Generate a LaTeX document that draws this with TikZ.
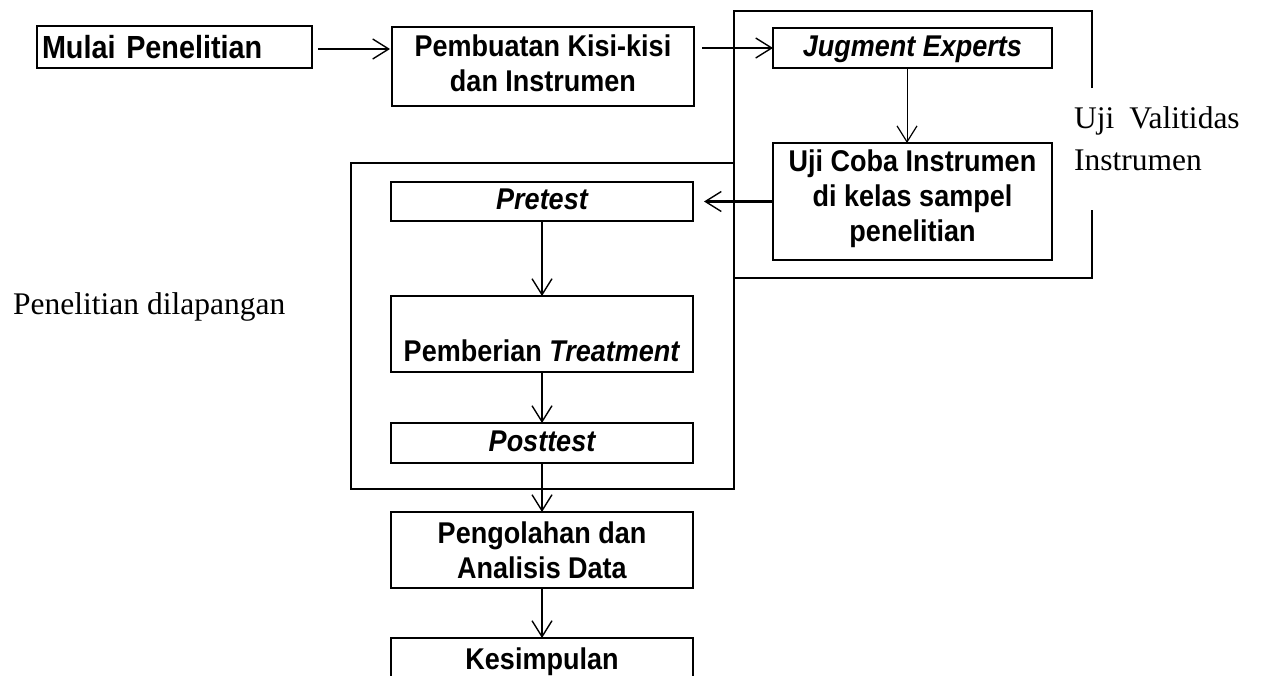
\documentclass[tikz,border=0pt]{standalone}
\usepackage{fontspec}
\setmainfont{Liberation Serif}
\newfontfamily\boxfont[FakeStretch=0.9]{Liberation Sans}
\usetikzlibrary{arrows.meta}
\begin{document}
\begin{tikzpicture}[x=1pt,y=-1pt,
  flowbox/.style={draw, line width=2pt, inner sep=0pt, outer sep=0pt, align=center,
    font=\boxfont\bfseries\fontsize{30}{35}\selectfont},
  oneline/.style={text height=22pt, text depth=6pt},
  groupbox/.style={draw, line width=1.5pt},
  flow/.style={line width=2.2pt, -{Straight Barb[length=16pt,width=20pt,line width=1.4pt]}},
  thinflow/.style={line width=1pt, -{Straight Barb[length=16pt,width=20pt,line width=1.2pt]}},
  sidelabel/.style={font=\fontsize{31.5}{42}\selectfont, inner sep=0pt, anchor=base west}
]
\useasboundingbox (0,0) rectangle (1264,675);
\clip (0,0) rectangle (1264,675);

% group outlines
\draw[groupbox] (1092,88) -- (1092,11) -- (734,11) -- (734,278) -- (1092,278) -- (1092,210);
\draw[groupbox] (351,163) rectangle (734,489);

% boxes
\node[flowbox, font=\boxfont\bfseries\fontsize{32}{35}\selectfont, line width=2.4pt,
      text width=265pt, inner xsep=5pt, align=left, minimum height=42pt,
      text height=23pt, text depth=0pt] (mulai) at (174.5,47) {Mulai Penelitian};
\node[flowbox, minimum width=302pt, minimum height=79pt] (pemb) at (543,66.5) {Pembuatan Kisi-kisi\\dan Instrumen\rule[-6pt]{0pt}{0pt}};
\node[flowbox, oneline, minimum width=279pt, minimum height=40pt] (jug) at (912.5,48) {\itshape Jugment Experts};
\node[flowbox, minimum width=279pt, minimum height=117pt] (uji) at (912.5,201.5) {Uji Coba Instrumen\\di kelas sampel\\penelitian\rule[-12pt]{0pt}{0pt}};
\node[flowbox, oneline, minimum width=302pt, minimum height=39pt] (pre) at (542,201.5) {\itshape Pretest};
\node[flowbox, minimum width=302pt, minimum height=76pt] (treat) at (542,334) {};
\node[font=\boxfont\bfseries\fontsize{30}{35}\selectfont, inner sep=0pt, anchor=base] (treattxt) at (542,361) {Pemberian \textit{Treatment}};
\node[flowbox, oneline, minimum width=302pt, minimum height=40pt] (post) at (542,443) {\itshape Posttest};
\node[flowbox, minimum width=302pt, minimum height=76pt] (peng) at (542,550) {Pengolahan dan\\Analisis Data};
\node[flowbox, oneline, minimum width=302pt, minimum height=46pt] (kes) at (542,661) {Kesimpulan};

% side labels
\node[sidelabel] (ujival) at (1074,128) {Uji\hspace{15pt}Valitidas};
\node[sidelabel] (ujiins) at (1074,170) {Instrumen};
\node[sidelabel] (lapangan) at (13,314) {Penelitian dilapangan};

% connectors
\draw[flow, shorten <=6pt, shorten >=2pt] (mulai.east |- 0,49) -- (pemb.west |- 0,49);
\draw[flow, shorten <=8pt] (pemb.east |- jug.west) -- (jug.west);
\draw[thinflow] (jug.south -| 907,0) -- (uji.north -| 907,0);
\draw[flow, shorten >=11pt] (uji.west) -- (pre.east);
\draw[flow] (pre.south) -- (treat.north);
\draw[flow] (treat.south) -- (post.north);
\draw[flow] (post.south) -- (peng.north);
\draw[flow] (peng.south) -- (kes.north);
\end{tikzpicture}
\end{document}
